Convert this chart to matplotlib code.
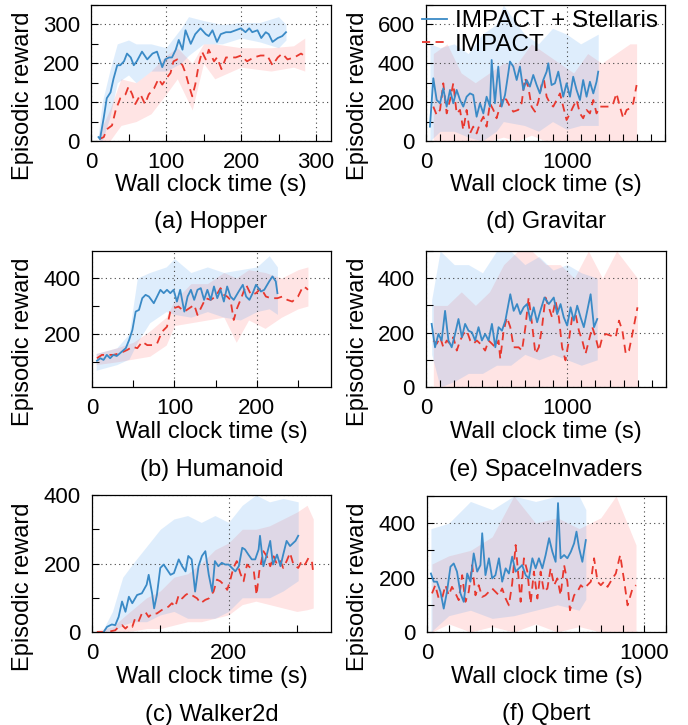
import matplotlib
matplotlib.use('Agg')
import matplotlib.pyplot as plt
from matplotlib.ticker import MultipleLocator
from matplotlib.lines import Line2D

plt.rcParams['font.family'] = ['Liberation Sans', 'DejaVu Sans']

BLUE = '#3a8ac6'
RED = '#e8382e'
BLUE_FILL = '#4d9ff0'
RED_FILL = '#ff6b6b'
FILL_ALPHA = 0.18
DASH = (0, (4.5, 3))

# ---------------- Hopper ----------------
hopper_x_s = [10,12,17,21,26,30,35,39,44,48,53,57,61,68,75,82,88,95,99,104,108,113,117,122,126,133,139,146,153,157,162,168,173,180,186,193,200,206,211,215,222,227,233,237,242,249,255,260]
hopper_y_s = [10,5,60,110,125,160,195,195,205,225,215,195,205,230,210,225,230,190,210,215,215,235,260,235,285,250,275,290,275,270,285,255,275,280,280,285,290,280,290,280,285,265,280,275,255,265,270,280]
hopper_bx_s = [10,15,25,35,50,60,80,100,120,130,150,175,200,225,250,260]
hopper_hi_s = [20,100,180,250,260,250,250,240,290,320,310,300,305,305,320,300]
hopper_lo_s = [0,0,60,150,170,150,180,180,200,220,250,250,265,255,240,260]
hopper_x_r = [11,17,21,28,33,39,46,50,55,59,66,72,77,84,90,95,102,106,110,115,122,126,131,135,139,144,148,153,157,164,168,174,180,186,193,200,208,217,226,235,242,249,255,262,271,280,284]
hopper_y_r = [5,10,30,40,80,110,120,140,120,95,120,95,120,135,160,145,165,175,205,210,195,175,140,115,145,200,230,210,235,205,215,185,215,215,215,220,205,215,220,220,195,215,225,210,215,225,220]
hopper_bx_r = [11,25,40,60,80,100,115,135,150,165,200,240,270,285]
hopper_hi_r = [20,80,160,150,180,220,240,200,250,250,240,240,245,265]
hopper_lo_r = [0,0,40,50,70,120,160,80,200,160,190,180,190,180]

# ---------------- Humanoid ----------------
humanoid_x_s = [6,10,14,18,22,26,30,34,41,45,49,53,57,61,65,69,75,79,83,87,91,95,99,103,107,112,116,120,124,128,132,136,140,144,148,152,156,160,164,168,172,178,183,187,191,195,199,205,209,215,219,223,225]
humanoid_y_s = [104,113,107,125,113,125,121,131,149,178,214,280,286,328,340,334,310,334,358,346,358,346,358,316,358,280,334,358,322,358,364,322,358,322,370,328,358,316,370,334,322,352,376,334,322,346,376,352,358,388,406,388,346]
humanoid_bx_s = [5,30,45,55,70,90,100,120,140,160,180,200,215,225]
humanoid_hi_s = [130,150,200,400,420,440,470,420,440,420,430,440,480,440]
humanoid_lo_s = [70,90,110,170,240,280,270,260,280,260,250,280,290,270]
humanoid_x_r = [6,12,18,26,34,43,49,55,61,67,73,79,85,91,95,99,105,112,118,124,128,132,138,144,150,156,160,164,168,172,176,181,187,193,199,205,211,217,225,231,237,243,250,256,260,262]
humanoid_y_r = [113,125,125,125,131,143,154,149,172,160,160,166,208,226,280,292,298,280,292,304,268,292,328,322,334,364,340,334,322,250,292,328,376,340,346,364,334,328,328,334,322,316,334,370,364,358]
humanoid_bx_r = [5,30,50,70,90,100,120,140,160,175,190,210,230,250,262]
humanoid_hi_r = [130,150,170,210,260,320,380,380,420,400,430,420,400,430,440]
humanoid_lo_r = [90,100,110,120,160,230,240,250,260,170,250,220,260,290,300]

# ---------------- Walker2d ----------------
walker_x_s = [17,22,29,34,39,44,49,54,59,66,73,80,83,88,91,95,100,105,110,115,120,127,132,137,141,146,151,156,161,166,171,176,180,185,190,195,200,205,210,215,220,224,229,234,239,244,246,251,256,261,265,271,276,280,285,290,298,302]
walker_y_s = [0,15,22,20,44,89,59,103,84,108,113,138,167,113,69,108,187,197,182,167,172,212,192,177,222,212,118,192,222,236,167,118,207,192,202,197,197,187,177,192,246,241,226,212,212,241,281,192,226,266,197,226,192,226,266,251,266,281]
walker_bx_s = [17,30,45,60,80,100,120,140,160,180,200,220,240,260,280,302]
walker_hi_s = [10,60,160,200,250,300,330,340,320,340,320,370,400,380,390,380]
walker_lo_s = [0,0,20,30,30,50,60,40,40,40,60,100,100,100,120,150]
walker_x_r = [7,17,27,34,39,44,49,54,59,63,68,73,78,83,88,95,102,107,112,117,122,127,132,137,141,146,154,159,166,171,178,183,188,193,198,202,207,212,217,222,227,232,237,241,245,251,256,261,266,271,276,280,285,290,295,302,307,312,317,322,324]
walker_y_r = [0,0,2,5,15,20,10,20,15,39,30,54,59,44,54,54,64,69,74,84,74,108,98,108,113,108,98,84,94,98,118,153,148,138,123,148,187,207,172,148,197,187,177,108,177,236,221,192,221,197,207,187,207,231,197,187,207,197,216,207,172]
walker_bx_r = [7,30,50,80,100,120,140,160,180,200,220,240,260,280,300,315,324]
walker_hi_r = [5,15,50,100,120,160,170,200,240,260,300,300,310,330,350,370,330]
walker_lo_r = [0,0,0,10,10,20,30,30,40,50,80,90,80,70,60,65,70]

# ---------------- Gravitar ----------------
gravitar_x_s = [28,52,76,100,123,147,171,194,218,242,265,289,313,336,360,384,408,431,455,467,490,514,538,562,585,597,621,645,668,692,716,739,763,787,810,834,858,870,893,917,941,976,1000,1024,1047,1071,1095,1118,1142,1166,1190,1213,1225]
gravitar_y_s = [74,323,211,194,271,177,263,194,263,211,177,228,245,237,125,194,142,228,177,417,194,383,177,237,348,409,383,314,383,263,314,280,340,288,245,314,357,400,288,297,357,228,297,228,331,263,211,314,228,305,245,305,357]
gravitar_bx_s = [28,100,200,300,400,500,550,700,800,900,1000,1100,1225]
gravitar_hi_s = [500,480,500,450,550,600,700,550,500,580,550,500,550]
gravitar_lo_s = [0,50,50,20,0,50,100,80,50,100,60,80,80]
gravitar_x_r = [52,76,100,123,147,171,194,218,242,265,289,313,336,360,384,408,431,455,479,502,526,550,573,597,621,656,680,704,727,751,775,799,822,839,858,882,905,929,953,976,1000,1024,1047,1071,1095,1118,1142,1166,1190,1213,1237,1261,1284,1308,1332,1355,1379,1403,1427,1450,1474,1498]
gravitar_y_r = [177,134,160,297,142,211,297,142,160,57,160,39,74,39,91,125,74,194,160,117,177,228,211,177,151,160,194,323,280,177,151,203,288,314,228,194,177,211,245,177,108,142,177,211,142,117,160,142,211,142,177,177,177,177,194,245,177,117,160,168,194,288]
gravitar_bx_r = [52,150,250,350,450,550,650,750,850,950,1050,1150,1250,1350,1450,1498]
gravitar_hi_r = [450,500,350,300,350,400,400,500,450,400,350,450,400,450,500,500]
gravitar_lo_r = [0,0,0,0,0,20,0,30,0,0,0,0,0,0,0,0]

# ---------------- SpaceInvaders ----------------
space_x_s = [40,64,88,111,135,159,182,206,230,254,277,301,325,348,372,396,419,443,467,491,514,538,562,597,621,645,668,692,716,739,763,787,810,839,870,905,929,953,976,1000,1024,1047,1071,1095,1118,1142,1166,1190,1213]
space_y_s = [232,146,195,171,280,171,146,195,250,183,232,207,201,171,220,171,195,171,232,146,220,207,244,341,280,305,268,293,305,244,293,238,280,329,305,329,268,305,256,226,293,244,299,256,220,280,341,220,250]
space_bx_s = [40,100,200,300,400,500,600,700,800,900,1000,1100,1213]
space_hi_s = [320,500,450,450,420,500,500,450,480,430,450,420,400]
space_lo_s = [120,0,20,50,50,80,80,120,100,120,100,80,100]
space_x_r = [52,76,100,123,147,171,194,218,242,265,289,313,336,360,384,419,443,467,491,514,526,550,573,597,621,656,680,704,727,751,775,799,822,846,870,893,917,941,964,988,1012,1035,1059,1083,1107,1130,1154,1178,1201,1225,1249,1273,1308,1344,1367,1391,1415,1438,1462,1498]
space_y_r = [171,159,183,146,171,159,183,134,171,195,207,171,159,171,159,134,171,159,146,171,104,207,256,220,146,146,134,220,329,232,122,146,220,329,293,256,317,256,146,98,171,256,268,207,171,122,171,220,183,134,183,195,189,183,244,207,122,134,195,293]
space_bx_r = [52,150,250,350,450,550,650,750,850,950,1050,1150,1250,1350,1498]
space_hi_r = [300,300,350,300,350,450,500,500,450,450,400,500,400,500,400]
space_lo_r = [0,0,0,0,0,0,0,0,0,0,0,0,0,0,0]

# ---------------- Qbert ----------------
qbert_x_s = [18,31,46,62,77,92,108,123,138,154,169,185,200,215,231,246,254,269,285,300,315,331,346,362,377,392,408,423,438,454,469,485,500,515,531,546,562,577,592,603,615,631,646,662,677,688,700,715,731]
qbert_y_s = [215,185,185,148,86,148,240,252,222,142,111,215,185,289,222,246,363,209,271,197,209,271,185,234,215,277,222,234,246,209,197,271,234,271,234,283,345,295,258,474,271,283,271,295,326,369,308,258,338]
qbert_bx_s = [18,100,200,300,400,500,600,700,731]
qbert_hi_s = [380,400,480,450,500,480,500,500,450]
qbert_lo_s = [0,60,80,50,60,80,100,80,120]
qbert_x_r = [23,38,54,69,85,100,115,131,146,162,177,192,208,223,238,254,269,285,300,315,331,346,362,377,392,408,415,431,446,462,477,492,508,523,538,554,569,585,600,615,631,646,658,677,692,708,723,738,754,769,785,800,815,831,854,869,889,908,923,946,962]
qbert_y_r = [142,172,123,123,172,135,166,142,117,209,111,148,246,135,172,129,135,148,160,148,135,160,123,98,178,320,258,111,271,222,105,222,123,222,148,160,234,172,197,135,246,185,80,135,148,172,160,172,185,271,185,172,185,166,197,215,283,185,98,160,172]
qbert_bx_r = [23,100,200,300,400,500,600,700,800,870,962]
qbert_hi_r = [250,280,300,350,500,400,420,380,420,500,320]
qbert_lo_r = [0,30,0,20,0,30,0,20,0,0,0]

captions = ['(a) Hopper', '(b) Humanoid', '(c) Walker2d',
            '(d) Gravitar', '(e) SpaceInvaders', '(f) Qbert']
legend_labels = ['IMPACT + Stellaris', 'IMPACT']

W, H = 688, 725
fig = plt.figure(figsize=(W / 100, H / 100), dpi=100)


def add_axes(left, top, right, bottom):
    return fig.add_axes([left / W, 1 - bottom / H, (right - left) / W, (bottom - top) / H])


def panel(ax, s, r, xlim, ylim, xmaj, xmin, ymaj, ymin, box, xl_y, yl_x):
    xs, ys, bxs, los, his = s
    xr, yr, bxr, lor, hir = r
    ax.fill_between(bxr, lor, hir, color=RED_FILL, alpha=FILL_ALPHA, lw=0)
    ax.fill_between(bxs, los, his, color=BLUE_FILL, alpha=FILL_ALPHA, lw=0)
    ax.plot(xr, yr, color=RED, lw=1.3, ls=DASH)
    ax.plot(xs, ys, color=BLUE, lw=1.3)
    ax.set_xlim(*xlim)
    ax.set_ylim(*ylim)
    ax.xaxis.set_major_locator(MultipleLocator(xmaj))
    ax.xaxis.set_minor_locator(MultipleLocator(xmin))
    ax.yaxis.set_major_locator(MultipleLocator(ymaj))
    ax.yaxis.set_minor_locator(MultipleLocator(ymin))
    ax.tick_params(which='both', direction='in', top=False, right=False,
                   length=5, width=0.8, labelsize=16, pad=8)
    ax.grid(which='major', ls=(0, (1, 3)), color='#444444', lw=0.8)
    for sp in ax.spines.values():
        sp.set_linewidth(0.9)
    left, top, right, bottom = box
    ax.set_xlabel('Wall clock time (s)', fontsize=17, va='center')
    ax.xaxis.set_label_coords(0.5, (bottom - xl_y) / (bottom - top))
    ax.set_ylabel('Episodic reward', fontsize=17, va='center')
    ax.yaxis.set_label_coords((yl_x - left) / (right - left), 0.33)
    return ax


boxes = [(91, 5, 331, 141), (92, 251, 331, 387), (92, 495, 331, 632),
         (426, 5, 665, 141), (426, 251, 666, 387), (427, 496, 666, 632)]
cap_ys = [222, 470, 715, 222, 470, 714]
xl_ys = [185, 432, 677, 185, 432, 677]
yl_xs = [23, 23, 23, 358, 358, 358]

series = [
    ((hopper_x_s, hopper_y_s, hopper_bx_s, hopper_lo_s, hopper_hi_s),
     (hopper_x_r, hopper_y_r, hopper_bx_r, hopper_lo_r, hopper_hi_r),
     (0, 320), (0, 350), 100, 50, 100, 50),
    ((humanoid_x_s, humanoid_y_s, humanoid_bx_s, humanoid_lo_s, humanoid_hi_s),
     (humanoid_x_r, humanoid_y_r, humanoid_bx_r, humanoid_lo_r, humanoid_hi_r),
     (0, 290), (10, 497), 100, 50, 200, 100),
    ((walker_x_s, walker_y_s, walker_bx_s, walker_lo_s, walker_hi_s),
     (walker_x_r, walker_y_r, walker_bx_r, walker_lo_r, walker_hi_r),
     (0, 350), (0, 400), 200, 100, 200, 100),
    ((gravitar_x_s, gravitar_y_s, gravitar_bx_s, gravitar_lo_s, gravitar_hi_s),
     (gravitar_x_r, gravitar_y_r, gravitar_bx_r, gravitar_lo_r, gravitar_hi_r),
     (0, 1700), (0, 700), 1000, 100, 200, 100),
    ((space_x_s, space_y_s, space_bx_s, space_lo_s, space_hi_s),
     (space_x_r, space_y_r, space_bx_r, space_lo_r, space_hi_r),
     (0, 1700), (0, 500), 1000, 100, 200, 100),
    ((qbert_x_s, qbert_y_s, qbert_bx_s, qbert_lo_s, qbert_hi_s),
     (qbert_x_r, qbert_y_r, qbert_bx_r, qbert_lo_r, qbert_hi_r),
     (0, 1100), (0, 500), 1000, 100, 200, 100),
]

axes = []
for i, (s, r, xlim, ylim, xmaj, xmin, ymaj, ymin) in enumerate(series):
    box = boxes[i]
    ax = add_axes(*box)
    panel(ax, s, r, xlim, ylim, xmaj, xmin, ymaj, ymin, box, xl_ys[i], yl_xs[i])
    cx = (box[0] + box[2]) / 2
    fig.text(cx / W, 1 - cap_ys[i] / H, captions[i], fontsize=17, ha='center', va='center')
    axes.append(ax)

handles = [Line2D([], [], color=BLUE, lw=1.3),
           Line2D([], [], color=RED, lw=1.3, ls=DASH)]
axes[3].legend(handles, legend_labels, loc='upper left', bbox_to_anchor=(-0.015, 0.963),
               frameon=False, fontsize=17.5, handlelength=1.0, handletextpad=0.35,
               labelspacing=0.08, borderpad=0, borderaxespad=0)

fig.savefig('out.png', dpi=100)
